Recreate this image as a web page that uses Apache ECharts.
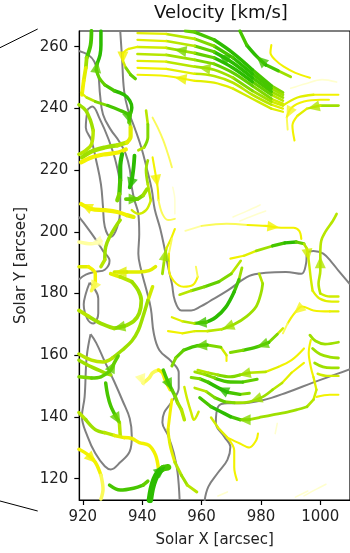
<!DOCTYPE html>
<html>
<head>
<meta charset="utf-8">
<script src="https://cdn.jsdelivr.net/npm/echarts@6/dist/echarts.min.js"></script>
<style>
html, body { margin: 0; padding: 0; background: #fff; }
#chart { width: 350px; height: 553px; }
</style>
</head>
<body>
<div id="chart"></div>
<script>
// Axis ticks and visible window (arcsec)
const xTicks = [920, 940, 960, 980, 1000];
const yTicks = [120, 140, 160, 180, 200, 220, 240, 260];
const xRange = [918.81, 1010];
const yRange = [113.08, 265.06];

// Grey contour lines [x, y]
const contourLeft = [[918.7,258.6],[921.9,257.3],[923.9,255.1],[925.2,250.9],[925.8,244.4],[926.8,238],[929.4,233.1],[932.3,229.2],[934.5,225.1],[935.8,220.3],[936.5,214.4],[937.4,210.2],[938.7,205.8],[939,199.3],[938.7,192.9],[939.7,187.4],[941.3,181.6],[942.9,175.2],[943.9,167.1],[945.8,161.6],[949.7,158.1],[952.3,154.3],[952.3,149.4],[949.7,144.6],[947.4,141.4],[946.8,138.2],[948.7,134],[950.6,128.5],[951.9,122.1],[952.6,113.1]];
const contourRight = [[932.6,265.1],[933.2,256.4],[933.9,245.7],[935.2,239.6],[937.4,233.8],[939.7,227.3],[941.6,220.3],[943.2,213.8],[944.2,207.4],[946.1,200.9],[947.7,193.8],[948.7,188.7],[950,183.2],[951,177.7],[953.2,174.5],[956.5,174.5],[959.7,175.8],[962.6,177.4],[968.7,180.9],[976.1,185.7],[981.6,186.7],[988.4,187],[993.6,186.4],[995.2,189.7],[995.5,192.9],[997.7,193.8],[1001,192.9],[1004.2,189.7],[1006.1,187.4],[1010,183]];
const contourTongue = [[921.6,239.6],[921,233.8],[922.9,229.6],[924.5,223.1],[926.1,215.4],[926.8,208],[927.4,201.6],[929.4,198.3],[931.6,201.6],[932.6,207.4],[932.6,213.8],[931.3,221.9],[928.7,229.9],[925.5,237],[923.2,240.6],[921.6,239.6]];
const contourBend = [[918.7,204.8],[921.3,201.6],[924.2,197.7],[926.8,193.8],[929,190.6],[927.4,187.7],[924.2,187],[921,186.1],[918.7,184.5]];
const contourSmallLoop = [[922.3,183.5],[921,179.9],[920.3,176.4],[921.6,171.6],[923.5,170.3],[925.2,173.6],[925.2,178.4],[923.5,182.2],[922.3,183.5]];
const contourLowerLoop = [[922.6,166.8],[921.3,159.4],[920.6,146.5],[919.7,140.1],[921.6,133.6],[924.2,128.2],[927.4,124],[929.4,123],[932.6,125.3],[935.8,128.8],[936.5,133.6],[935.8,139.5],[933.5,145],[930.6,151.4],[927.4,157.9],[924.5,164],[922.6,166.8]];
const contourLowerRight = [[1010,155.5],[1006.1,154.1],[997.7,151.2],[989,148],[980.6,145.4],[972.9,144.4],[968.7,144.4],[965.5,143.2],[964.8,138],[967.7,133.5],[969.7,130.3],[968.7,126.1],[965.5,121.9],[962.3,117.4],[961,112.8]];

// Streamlines: p = [x, y, speed km/s] in flow order, a = arrow positions, w = line width
const streamsTopBundle = [
  {p:[[987.4,245.1,1.8],[983.5,247.3,2.5],[977.1,252.5,3],[970.6,257.9,3],[964.2,262.2,2.8],[957.7,264.7,2.5],[954.5,265.1,2.5]]},
  {p:[[987.4,244.4,1.5],[983.5,246.4,2.5],[977.1,251.2,3],[970.6,256.4,3],[964.2,260.2,2.5],[957.7,262.5,2],[948.1,264.1,1.3],[938.4,264.4,1]]},
  {p:[[987.4,243.5,1.5],[983.5,245.4,2.5],[977.1,249.9,3],[970.6,254.7,3],[964.2,258.3,2.8],[957.7,260.2,2.2],[948.1,261.8,1.5],[938.4,262.2,1.2]], a:[3]},
  {p:[[987.4,242.5,1.3],[983.5,244.4,2.2],[977.1,248.6,2.8],[970.6,253.1,3],[964.2,256.4,2.8],[957.7,257.9,2.3],[948.1,259.6,1.8],[938.4,259.9,1.3],[935.5,259.3,1],[933.5,257.6,1],[933.5,255.4,1.2],[934.5,253.1,1.8],[936.1,250.9,2.5],[937.7,249.6,2.5]], a:[5,9]},
  {p:[[987.4,241.5,1.2],[983.5,243.1,2],[977.1,247.3,2.5],[970.6,251.5,2.5],[964.2,254.4,2.5],[957.7,255.7,2.2],[948.1,257.3,2],[938.4,257.6,1.5]]},
  {p:[[1006.1,244.4,1],[1003.2,244.4,1],[997.7,244.4,1.1],[992.3,243.5,1.2],[987.4,240.9,1.2],[983.5,242.2,1.8],[977.1,245.7,2.2],[970.6,249.9,2.2],[964.2,252.5,2],[957.7,253.5,1.8],[948.1,255.1,1.5],[938.4,255.4,1.2]], a:[8]},
  {p:[[987.4,239.9,1],[983.5,241.2,1.5],[977.1,244.4,1.8],[970.6,248.3,1.8],[964.2,250.5,1.8],[957.7,251.2,1.5],[948.1,252.8,1.2],[938.4,253.1,1]]},
  {p:[[987.4,238.9,1],[983.5,239.9,1.3],[977.1,243.1,1.5],[970.6,246.4,1.3],[964.2,248.3,1.2],[957.7,248.9,1.1],[948.1,250.5,1],[938.4,250.9,0.9]], a:[5]},
  {p:[[990,250.2,1.5],[985.8,252.2,2.5],[981.6,254.1,2.8],[978.4,257,3],[975.2,260.5,2.8],[972.9,265.1,2.5]], a:[2]}
];

const streamsTopRight = [
  {p:[[1006.1,240.9,2],[1000,240.9,1.8],[995.5,239.9,1.3],[992.3,237.6,1.1],[990.6,234.4,1],[991.3,229.6,0.8]], a:[1]},
  {p:[[1002.9,242.8,1],[1000,242.8,1],[994.5,242.2,1],[990.3,240.2,0.9],[988.7,237,0.9],[989,233.1,0.8]], a:[3]},
  {p:[[996.5,249.9,0.8],[991.6,251.5,1],[987.7,253.5,1],[984.8,255.7,1],[983.2,258,1],[983.5,260.5,0.8]]},
  {p:[[990,246.5,0.35],[995,248,0.35],[1000.6,249.3,0.35],[1005.5,248.5,0.35]]}
];

const streamsLeft = [
  {p:[[922.9,265.1,2.8],[922.6,260.5,2.8],[921.3,256.4,2.5],[921,253.1,1.5],[920.3,249,1],[919.7,244.4,1.2]], w:3.8},
  {p:[[935.5,235.4,2.5],[935.8,237.6,2.8],[936.5,240.2,3],[935.8,242.5,3],[933.9,244.4,3],[930.6,245.7,2.8],[927.4,247.6,2.5],[925.5,249.9,2.5],[924.5,252.5,2.5],[924.8,254.4,2.8],[925.8,257.3,3],[926.1,260.5,3],[926.1,265.1,3]], a:[8]},
  {p:[[919.4,245.1,1.2],[921.3,243.5,1.3],[924.2,242.2,2],[928.4,240.9,2.5],[932.6,239.3,2.8],[935.2,238,2.8],[935.8,235.7,2.5],[936.1,233.1,2]], a:[5]},
  {p:[[918.7,241.2,2],[921,239.3,2],[922.6,236,2],[923.5,232.8,1.8],[922.9,228.3,1.8],[921,226.4,1.8],[918.7,225.1,1.8]], w:3.5},
  {p:[[919.7,224.1,2],[922.9,226,2],[927.4,227.3,2],[931.6,228,1.8],[934.8,228.9,1.5],[936.1,230.9,1.2],[936.1,233.8,1.2]], w:4.2},
  {p:[[919.4,222.5,1],[922.9,224.1,1],[927.4,225.1,1],[931.9,225.7,1],[934.5,226.7,1]], w:4.2},
  {p:[[933.2,225.1,3],[932.6,220.9,3],[932.6,216.7,2.8],[932.3,212.2,2.5],[931.6,210.2,2]], w:4.2},
  {p:[[937.4,224.7,3],[937.1,220.9,3],[936.5,216.7,3],[935.8,214.4,2.8]], a:[2], w:3.8},
  {p:[[941.3,239.3,1.5],[941.9,234.8,2.2],[941.9,230.6,2.5],[940.6,227.3,2],[938.7,226.4,1.5]]},
  {p:[[941.9,223.1,2],[941.3,219.9,2],[941.9,215.4,1.8],[942.9,210.2,1.5],[941.3,207,1.5],[938.7,205.8,1.5],[936.5,207,1.5]]},
  {p:[[943.5,237,0.6],[945.2,233.8,0.7],[947.1,229.6,0.7],[948.7,225.1,0.7],[950,220.9,0.6]]},
  {p:[[943.5,224.1,1],[944.5,218.6,1],[945.2,214.4,1],[945.5,210.2,0.9],[946.8,205.8,0.8],[948.7,203.8,0.7],[951,204.2,0.6]], a:[1]},
  {p:[[950.3,214.4,0.3],[951,210.2,0.3],[951,205.8,0.3]]},
  {p:[[934.5,210.6,2.5],[936.5,210.6,2.5],[938.4,210.6,2.5],[940.3,211.8,2.2],[941.6,213.8,2]], a:[1], w:3.8},
  {p:[[937.1,204.8,1.2],[934.8,205.4,1.2],[931.6,206.4,1],[927.4,207,1],[922.9,207.4,1],[919.4,209,1.2]], a:[4], w:4.2},
  {p:[[932.6,203.8,2],[931,201.6,2],[929,198.3,2],[927.7,195.1,2],[927.4,190.9,1.8],[926.1,188.7,1.8]], w:3.5},
  {p:[[926.1,197,0.4],[922.9,196.1,0.4],[918.7,196.7,0.4]], a:[0], w:3.5},
  {p:[[918.7,188.7,1.2],[921.9,188.7,1.2],[924.2,186.4,1],[924.2,183.2,0.8],[922.9,180.9,0.6]], a:[3], w:3.5},
  {p:[[944.5,188.7,1.2],[942.3,187.4,1.2],[939,187,1.2],[934.8,187,1.3],[930.6,187,1.5]], a:[3], w:3.5},
  {p:[[946.8,186.4,2],[947.4,190.6,2],[948.1,194.5,1.5],[949.7,197.7,1],[951,200.9,0.8]], a:[1]}
];

const streamsLowerLeft = [
  {p:[[929.4,186.4,1.2],[932.6,185.4,1.5],[936.5,183.8,1.8],[938.7,180.9,2],[939.7,177.7,2],[939,173.6,2],[937.1,171,2],[933.9,169.4,2.2],[930.6,168.7,2.2],[926.1,170.3,2],[921.9,172.6,1.8],[918.7,174.5,1.5]], a:[7], w:3.8},
  {p:[[943.5,182.2,1.2],[941.9,177.7,1.8],[940.3,172.6,2],[938.7,168.1,2],[936.5,164.6,2],[933.2,161.6,2],[930,159.1,1.8],[926.8,157.8,1.8],[922.9,158.4,1.8],[918.7,160.4,1.8]], w:3.5},
  {p:[[918.7,158.4,1.8],[922.9,156.2,2],[927.4,154.3,2],[929.4,153.6,2]], w:3.5},
  {p:[[918.7,153,2.2],[922.9,152.6,2.5],[926.1,153,2.5],[929.4,155.2,2.5],[930.6,157.5,2.5],[931.9,159.7,2.5]], a:[3], w:3.5},
  {p:[[927.7,151,2.5],[928.4,146.9,2.8],[929.4,143.6,2.8],[931,140.4,2.5],[932.3,138.2,2],[932.6,134,1.5]], a:[3], w:3.5},
  {p:[[918.7,141.4,1.8],[921,139.1,1.8],[924.2,135.9,2],[927.4,134.9,1.8],[930.6,134,1.5],[933.9,133.3,1.2],[936.5,133,1],[939,131.7,1],[942.3,130.8,1],[944.5,127.6,1],[945.5,123,1]], w:3.5},
  {p:[[918.7,129.5,1],[921.9,127.6,1],[924.2,125.3,1],[926.1,121.1,0.9],[926.8,116.6,0.8],[926.1,113.4,0.7]], a:[1], w:3.5},
  {p:[[929,117.9,2.8],[932.6,116.3,2.8],[937.1,116.9,2.8],[940.3,117.9,2.5],[941.9,119.2,2.5]], w:3.5},
  {p:[[942.6,113.1,3],[943.2,116.6,3],[944.2,119.8,3],[945.5,122.1,3],[947.1,123.4,2.8],[948.7,123.7,2.5]], a:[3], w:6.5},
  {p:[[950,145.6,1],[949.4,141.4,1],[948.7,135.9,1.2],[949.4,130.8,1.2],[951,125.3,1.5],[953.2,121.1,2],[955.2,117.9,2],[958.4,115.7,1.5]], w:3},
  {p:[[939.7,152.6,0.6],[940.3,151,0.6],[942.3,152.6,0.8],[943.5,154.3,0.8],[945.5,155.2,0.9],[946.8,154.3,1],[947.7,152,1],[949.4,148.8,1]], a:[0], w:3.5},
  {p:[[947.1,155.2,2.5],[948.4,152,2.8],[950,148.8,2.5],[951,146.9,2.5],[951.9,144.6,2.2],[953.2,142.4,2],[954.2,139.1,1.5]], a:[1], w:3.5},
  {p:[[954.2,149.7,1.5],[955.2,145.6,1.5],[956.5,141.4,1.5],[957.4,139.1,1.5],[959,141.7,1.3]]}
];

const streamsCentre = [
  {p:[[979.4,186.4,1.5],[980.6,183.2,1.8],[980,180,2],[978.4,175.8,2],[975.2,172.6,2],[971,170,2],[966.8,168.4,1.8],[961.9,167.8,1.5],[957.7,167.8,1.3],[953.5,167.1,1.2],[948.7,167.8,1]], a:[5]},
  {p:[[973.6,188.3,1.5],[972.6,184.5,2.5],[971,180.6,3],[968.1,175.5,3],[964.8,172.3,3],[961.6,170.7,2.8],[957.7,170.3,2.2],[953.5,171,1.5],[950,172.3,1.2]], a:[5]},
  {p:[[968.4,158.1,1],[968.4,160,1.2],[966.5,162.6,1.8],[961.9,163.3,2.5],[957.7,162.9,2.8],[953.9,161.6,2.5],[951.3,159.1,2.5],[950,156.5,2]], a:[3]},
  {p:[[987.4,168.7,1.2],[985.5,166.8,1.8],[982.6,164.1,2.5],[978.4,162.6,2.8],[973.9,161.6,2.5],[969.7,160.9,2]], a:[2]},
  {p:[[954.5,200.3,0.4],[960,201.9,0.6],[968.4,202.6,0.8],[975.5,202.2,0.9],[981.6,201.9,1],[986.8,201.3,1],[991,201.3,1],[992.9,200.3,1],[993.6,197.7,1]], a:[4]},
  {p:[[969.7,191.3,1],[974.2,192.2,1.2],[978.4,193.8,1.5],[983.9,195.4,2.5],[988.1,196.4,3],[991.9,196.7,2.8],[994.5,196.1,2],[995.5,194.5,1.5],[996.1,190.6,1.5],[996.8,184.8,1.5],[997.4,180.9,1.3],[999.7,178.4,1.2],[1003.9,177.4,1.2],[1006.1,177.4,1.2]], a:[7]},
  {p:[[1006.1,179,1.5],[1003.2,179,1.5],[1000,180,1.5],[999.4,183.2,1.8],[1000,187.4,1.8],[1000,192.9,1.8],[1000.3,197,1.8],[1001.9,200.3,1.8],[1004.2,203.5,1.8],[1005.5,205.8,1.8]], a:[4]},
  {p:[[1006.1,174.2,1.2],[1003.2,174.2,1.2],[997.7,174.5,1],[993.9,175.8,0.9],[991.3,173.6,0.9],[989,170.3,0.9],[987.4,167.1,0.8]], a:[3]},
  {p:[[972.9,203.5,0.3],[977.1,205.1,0.3],[981.6,206.7,0.3]]},
  {p:[[970.6,204.8,0.3],[975.2,206.7,0.3],[979.7,208.7,0.3]]},
  {p:[[950,197.7,0.8],[949,192.9,0.9],[949,188,1],[950.6,184.1,1],[953.9,182.2,1],[957.1,182.8,1],[958.7,185.4,0.9],[958.1,188.7,0.8]]},
  {p:[[973.2,190.6,1.5],[970,186.4,2],[965.8,183.8,2.5],[961,182.2,2.5],[956.5,180.9,2],[952.6,179.6,1.5]]}
];

const streamsLowerRight = [
  {p:[[996.8,164.9,0.8],[996.1,160.7,1],[996.8,156.2,1],[997.7,152.9,1.2],[998.7,148.8,1.3],[997.7,145.6,1.5],[995.5,143.3,1.8],[992.3,142.4,2],[988.1,141.4,2],[983.9,140.7,2],[979.4,139.8,2],[976.1,139.1,2.2],[972.9,139.1,2.5],[969.7,140.1,2.8],[966.5,141.7,3],[963.2,143.3,3],[959.4,146.2,2.5]], a:[11]},
  {p:[[994.5,157.5,1],[990.3,154.3,1.2],[987.1,151,1.5],[983.9,148.8,1.8],[980.6,146.5,2],[976.1,144.9,2],[971,144.6,2.2],[967.7,144.9,2.5],[964.5,146.2,2.5],[961.6,148.2,2],[957.7,149.4,1.5]], a:[4]},
  {p:[[976.1,147.7,2],[972.9,147.3,2.5],[968.7,148,3],[965.5,149.5,3],[962.3,151.2,2.8],[959.4,152.4,2.5],[956.5,152.8,2]], a:[2]},
  {p:[[994.5,162.2,1],[990.3,158.4,1],[985.8,156.2,1.2],[981.6,154.6,1.5],[976.1,154.3,2],[972.9,153.6,2.2],[969.7,153,2.5],[965.5,153.6,2],[962.3,154.3,1.8],[958.7,155.2,1.5]], a:[4]},
  {p:[[978.7,152.2,2.5],[973.9,151.3,2.5],[968.7,151.4,2.8],[964.5,152.6,2.5],[961,153.8,2.2],[957.7,154.6,2]]},
  {p:[[963.2,139.8,1.5],[965.5,136.6,1.3],[968.7,133.3,1.2],[971,129.1,1],[971,123.7,1],[971.9,119.5,0.8]]},
  {p:[[968.7,133.3,1],[972.9,131.4,1],[976.1,130.1,1],[978.4,132.4,1],[979,134.6,1]]},
  {p:[[997.4,162.2,2],[1000,160.3,2],[1003.2,159.4,2],[1006.1,159.1,2]]},
  {p:[[998.1,157.5,2],[1000.9,156.2,2],[1003.9,155.9,2],[1006.1,155.9,2]]},
  {p:[[999.1,154,1.5],[1002.3,153.3,1.5],[1006.1,153.3,1.5]]},
  {p:[[1006.1,164.2,2],[1001.6,163.6,2],[998.4,164.6,2],[996.5,166.5,1.8]]},
  {p:[[998.7,146.5,1],[1003.2,147.2,1],[1006.1,147.2,1]]},
  {p:[[994.5,114.4,0.3],[998.7,116.6,0.3],[1001.9,118.2,0.3]]},
  {p:[[991.6,114,0.3],[995.8,116,0.3]]},
  {p:[[965.5,114.4,0.3],[968.7,115.7,0.3]]},
  {p:[[984.8,134.6,0.3],[985.5,137.9,0.3]]}
];

// Speed -> colour ramp (pale yellow -> yellow -> lime -> green)
const SPEED_STOPS = [[0.2,[255,255,215]],[0.6,[255,255,140]],[1.0,[242,242,0]],[1.5,[208,236,0]],[2.0,[158,224,0]],[2.5,[98,207,0]],[3.0,[44,188,0]],[3.5,[20,176,0]]];
function speedColor(v) {
  if (v <= SPEED_STOPS[0][0]) return 'rgb(' + SPEED_STOPS[0][1].join(',') + ')';
  for (let i = 1; i < SPEED_STOPS.length; i++) {
    const [v1, c1] = SPEED_STOPS[i];
    const [v0, c0] = SPEED_STOPS[i - 1];
    if (v <= v1) {
      const t = (v - v0) / (v1 - v0);
      const c = c0.map((x, k) => Math.round(x + (c1[k] - x) * t));
      return 'rgb(' + c.join(',') + ')';
    }
  }
  return 'rgb(' + SPEED_STOPS[SPEED_STOPS.length - 1][1].join(',') + ')';
}
function speedWidth(v) { return 1.4 + 0.7 * v; }

const contours = [contourLeft, contourRight, contourTongue, contourBend, contourSmallLoop, contourLowerLoop, contourLowerRight];
const streams = [].concat(streamsTopBundle, streamsTopRight, streamsLeft, streamsLowerLeft, streamsCentre, streamsLowerRight);

const series = [];
contours.forEach(c => {
  series.push({
    type: 'line', data: c, smooth: 0.4, symbol: 'none', silent: true, z: 2,
    lineStyle: { color: '#808080', width: 2 }
  });
});

// split each streamline into runs of similar speed so colour varies along it
streams.forEach(s => {
  const pts = s.p;
  let run = null;
  const runs = [];
  for (let i = 0; i < pts.length - 1; i++) {
    const key = Math.round((pts[i][2] + pts[i + 1][2]) / 2 * 4) / 4;
    if (run && run.key === key) {
      run.pts.push(pts[i + 1]);
    } else {
      run = { key: key, pts: [pts[i], pts[i + 1]] };
      runs.push(run);
    }
  }
  runs.forEach(r => {
    series.push({
      type: 'line', data: r.pts.map(p => [p[0], p[1]]), smooth: 0.35, symbol: 'none', silent: true, z: 3,
      lineStyle: { color: speedColor(r.key), width: s.w || speedWidth(r.key), cap: 'round', join: 'round' }
    });
  });
});

// arrow heads along the streamlines
const arrowData = [];
streams.forEach(s => {
  (s.a || []).forEach(k => {
    const p0 = s.p[k], p1 = s.p[k + 1];
    const ang = Math.atan2(p1[1] - p0[1], p1[0] - p0[0]) * 180 / Math.PI;
    arrowData.push({
      value: [(p0[0] + p1[0]) / 2, (p0[1] + p1[1]) / 2],
      symbolRotate: ang - 90,
      itemStyle: { color: speedColor(p0[2]) }
    });
  });
});
series.push({ type: 'scatter', data: arrowData, symbol: 'triangle', symbolSize: [11, 12], z: 5, silent: true });

const axisFont = { fontFamily: 'DejaVu Sans', fontSize: 15, color: '#222' };
const chart = echarts.init(document.getElementById('chart'), null, { renderer: 'canvas' });
chart.setOption({
  animation: false,
  backgroundColor: '#fff',
  grid: { left: 79.3, top: 31, width: 283.1, height: 471.5, show: true, borderColor: '#000', borderWidth: 1.2, backgroundColor: 'transparent' },
  xAxis: {
    type: 'value', min: xRange[0], max: xRange[1],
    axisLine: { show: true, lineStyle: { color: '#000', width: 1.2 } },
    axisTick: { show: true, length: 5, inside: false, customValues: xTicks, lineStyle: { color: '#000', width: 1.2 } },
    axisLabel: Object.assign({ customValues: xTicks, margin: 10, formatter: v => String(v) }, axisFont),
    splitLine: { show: false },
    name: 'Solar X [arcsec]', nameLocation: 'middle', nameGap: 33,
    nameTextStyle: { fontFamily: 'DejaVu Sans', fontSize: 15, color: '#222' }
  },
  yAxis: {
    type: 'value', min: yRange[0], max: yRange[1],
    axisLine: { show: true, lineStyle: { color: '#000', width: 1.2 } },
    axisTick: { show: true, length: 5, inside: false, customValues: yTicks, lineStyle: { color: '#000', width: 1.2 } },
    axisLabel: Object.assign({ customValues: yTicks, margin: 11, formatter: v => String(v) }, axisFont),
    splitLine: { show: false },
    name: 'Solar Y [arcsec]', nameLocation: 'middle', nameGap: 39,
    nameTextStyle: { fontFamily: 'DejaVu Sans', fontSize: 15, color: '#222' }
  },
  graphic: [
    { type: 'text', x: 221, y: 4, style: { text: 'Velocity [km/s]', fontFamily: 'DejaVu Sans', fontSize: 18, fill: '#111', textAlign: 'center' } },
    { type: 'line', shape: { x1: 0, y1: 47.7, x2: 37.7, y2: 29 }, style: { stroke: '#000', lineWidth: 1 } },
    { type: 'line', shape: { x1: 0, y1: 501, x2: 37.7, y2: 511 }, style: { stroke: '#000', lineWidth: 1 } }
  ],
  series: series
});
</script>
</body>
</html>
